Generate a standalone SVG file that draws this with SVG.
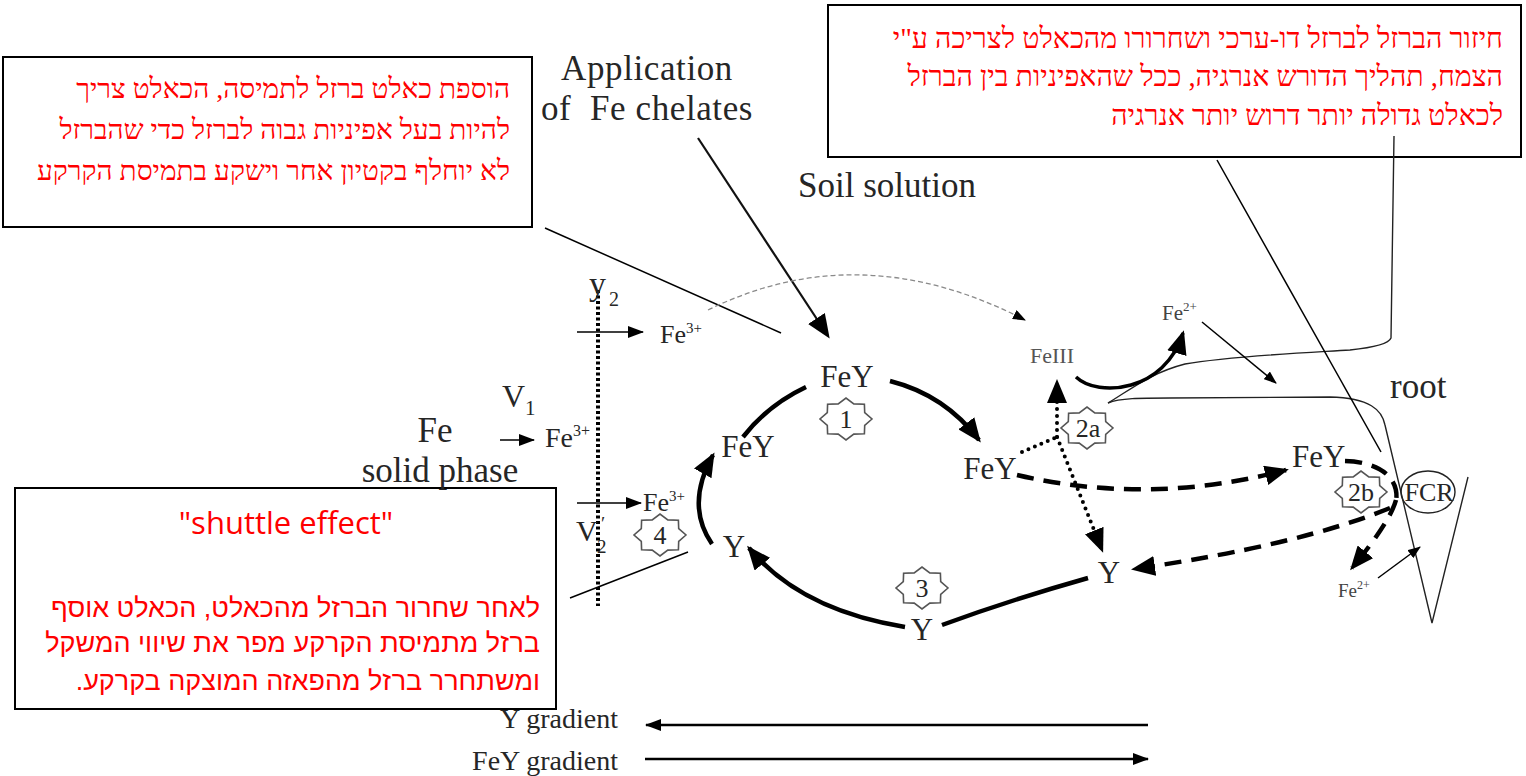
<svg xmlns="http://www.w3.org/2000/svg" width="1526" height="776" viewBox="0 0 1526 776">
<defs>
<style>
.lbl{font-family:"Liberation Serif","Times New Roman",serif;fill:#262626}
.heb{font-family:"Liberation Serif","DejaVu Serif",serif;fill:#ff0000;font-size:28px}
.hebr{font-family:"Liberation Serif","DejaVu Serif",serif;fill:#ff0000;font-size:28.5px}
.hebs{font-family:"Liberation Sans","DejaVu Sans",sans-serif;fill:#ff0000;font-size:27px}
.box{fill:#fff;stroke:#000;stroke-width:2}
.thin{fill:none;stroke:#000;stroke-width:1.5}
.med{fill:none;stroke:#111;stroke-width:2.2}
.heavy{fill:none;stroke:#000;stroke-width:4.5}
.dash{fill:none;stroke:#000;stroke-width:4.5;stroke-dasharray:17 10}
.dot{fill:none;stroke:#000;stroke-width:4;stroke-linecap:round;stroke-dasharray:0 7}
.vdot{fill:none;stroke:#000;stroke-width:4;stroke-dasharray:3 2.5}
.star{fill:#fff;stroke:#555;stroke-width:1.6}
.outline{fill:none;stroke:#222;stroke-width:1.4}
.gray{fill:none;stroke:#8a8a8a;stroke-width:1.3;stroke-dasharray:5 3}
</style>
<marker id="ab" markerUnits="userSpaceOnUse" markerWidth="24" markerHeight="20" refX="21" refY="10" orient="auto"><path d="M0,0 L24,10 L0,20 Z" fill="#000"/></marker>
<marker id="am" markerUnits="userSpaceOnUse" markerWidth="16" markerHeight="12" refX="15" refY="6" orient="auto"><path d="M0,0 L16,6 L0,12 Z" fill="#000"/></marker>
<marker id="as" markerUnits="userSpaceOnUse" markerWidth="13" markerHeight="10" refX="12" refY="5" orient="auto"><path d="M0,0 L13,5 L0,10 Z" fill="#000"/></marker>
<path id="starShape" d="M26,0 L18.7,6.3 L18.4,14.8 L7.8,15.1 L0,21 L-7.8,15.1 L-18.4,14.8 L-18.7,6.3 L-26,0 L-18.7,-6.3 L-18.4,-14.8 L-7.8,-15.1 L0,-21 L7.8,-15.1 L18.4,-14.8 L18.7,-6.3 Z"/>
</defs>
<rect width="1526" height="776" fill="#fff"/>

<g id="box-top-left">
<rect class="box" x="3" y="57" width="529" height="170"/>
<text class="heb" x="510" y="98" direction="rtl" text-anchor="start">הוספת כאלט ברזל לתמיסה, הכאלט צריך</text>
<text class="heb" x="510" y="139" direction="rtl" text-anchor="start">להיות בעל אפיניות גבוה לברזל כדי שהברזל</text>
<text class="heb" x="510" y="180" direction="rtl" text-anchor="start">לא יוחלף בקטיון אחר וישקע בתמיסת הקרקע</text>
</g>

<g id="box-top-right">
<rect class="box" x="828" y="5" width="693" height="152"/>
<text class="hebr" x="1503" y="48" direction="rtl" text-anchor="start">חיזור הברזל לברזל דו-ערכי ושחרורו מהכאלט לצריכה ע"י</text>
<text class="hebr" x="1503" y="86" direction="rtl" text-anchor="start">הצמח, תהליך הדורש אנרגיה, ככל שהאפיניות בין הברזל</text>
<text class="hebr" x="1503" y="125" direction="rtl" text-anchor="start">לכאלט גדולה יותר דרוש יותר אנרגיה</text>
</g>

<g id="box-bottom-left">
<rect class="box" x="15" y="488" width="541" height="221"/>
<text x="286" y="534" text-anchor="middle" style="font-family:'Open Sans','Liberation Sans',sans-serif;font-size:31px;fill:#ff0000">"shuttle effect"</text>
<text class="hebs" x="540" y="617" direction="rtl" text-anchor="start">לאחר שחרור הברזל מהכאלט, הכאלט אוסף</text>
<text class="hebs" x="540" y="652" direction="rtl" text-anchor="start">ברזל מתמיסת הקרקע מפר את שיווי המשקל</text>
<text class="hebs" x="540" y="690" direction="rtl" text-anchor="start">ומשתחרר ברזל מהפאזה המוצקה בקרקע.</text>
</g>

<g id="labels-top">
<text class="lbl" x="647" y="80" text-anchor="middle" font-size="35" letter-spacing="0.6">Application</text>
<text class="lbl" x="647" y="120" text-anchor="middle" font-size="35" letter-spacing="0.6" style="white-space:pre">of  Fe chelates</text>
<text class="lbl" x="798" y="197" font-size="35">Soil solution</text>
</g>

<g id="solid-phase">
<text class="lbl" x="435" y="442" text-anchor="middle" font-size="35">Fe</text>
<text class="lbl" x="440" y="482" text-anchor="middle" font-size="35">solid phase</text>
<text class="lbl" x="502" y="407" font-size="32">V<tspan font-size="21" dy="8">1</tspan></text>
<text class="lbl" x="545" y="447" font-size="28">Fe<tspan font-size="16" dy="-11">3+</tspan></text>
</g>

<g id="boundary">
<path class="vdot" d="M598,290 L598,606"/>
<text class="lbl" x="589" y="295" font-size="34">y</text>
<text class="lbl" x="609" y="306" font-size="20">2</text>
<text class="lbl" x="660" y="343" font-size="26">Fe<tspan font-size="15" dy="-10">3+</tspan></text>
<text class="lbl" x="643" y="511" font-size="26">Fe<tspan font-size="15" dy="-10">3+</tspan></text>
<text class="lbl" x="576" y="541" font-size="30">V</text>
<text class="lbl" x="597" y="553" font-size="19">2</text>
<text class="lbl" x="601" y="530" font-size="19">′</text>
</g>

<g id="node-star4"><use href="#starShape" class="star" transform="translate(660,535)"/><text class="lbl" x="660" y="544" text-anchor="middle" font-size="26">4</text></g>
<g id="node-fey-left"><text class="lbl" x="748" y="457" text-anchor="middle" font-size="31">FeY</text></g>
<g id="node-y-left"><text class="lbl" x="734" y="557" text-anchor="middle" font-size="31">Y</text></g>
<g id="node-fey-top"><text class="lbl" x="847" y="387" text-anchor="middle" font-size="31">FeY</text></g>
<g id="node-star1"><use href="#starShape" class="star" transform="translate(846,419)"/><text class="lbl" x="846" y="428" text-anchor="middle" font-size="26">1</text></g>
<g id="node-fey-mid"><text class="lbl" x="990" y="479" text-anchor="middle" font-size="31">FeY</text></g>
<g id="node-feiii"><text x="1030" y="363" font-size="22" style="font-family:'Liberation Serif',serif;fill:#555">FeIII</text></g>
<g id="node-star2a"><use href="#starShape" class="star" transform="translate(1087,428)"/><text class="lbl" x="1088" y="437" text-anchor="middle" font-size="26">2a</text></g>
<g id="node-y-right"><text class="lbl" x="1109" y="583" text-anchor="middle" font-size="31">Y</text></g>
<g id="node-y-bottom"><text class="lbl" x="922" y="640" text-anchor="middle" font-size="31">Y</text></g>
<g id="node-star3"><use href="#starShape" class="star" transform="translate(922,588)"/><text class="lbl" x="922" y="597" text-anchor="middle" font-size="26">3</text></g>
<g id="node-fe2-top"><text x="1162" y="320" font-size="21" style="font-family:'Liberation Serif',serif;fill:#444">Fe<tspan font-size="13" dy="-9">2+</tspan></text></g>
<g id="node-root">
<path class="outline" d="M1108,403 C1130,390 1150,373 1185,364 C1230,356 1300,353 1350,350 Q1388,346 1391,338 L1394,136"/>
<path class="outline" d="M1108,403 C1120,398 1140,398 1170,398 L1330,397 C1370,398 1382,410 1385,425 L1432,623 L1468,477"/>
<text class="lbl" x="1390" y="398" font-size="35">root</text>
</g>
<g id="node-fey-root"><text class="lbl" x="1292" y="467" font-size="31">FeY</text></g>
<g id="node-star2b"><use href="#starShape" class="star" transform="translate(1361,492)"/><text class="lbl" x="1361" y="501" text-anchor="middle" font-size="26">2b</text></g>
<g id="node-fcr"><ellipse cx="1428" cy="492" rx="27" ry="21" fill="none" stroke="#222" stroke-width="1.4"/><text class="lbl" x="1429" y="501" text-anchor="middle" font-size="26">FCR</text></g>
<g id="node-fe2-bottom"><text x="1338" y="597" font-size="19" style="font-family:'Liberation Serif',serif;fill:#444">Fe<tspan font-size="12" dy="-8">2+</tspan></text></g>

<g id="gradients">
<text class="lbl" x="618" y="728" text-anchor="end" font-size="28">Y gradient</text>
<text class="lbl" x="618" y="770" text-anchor="end" font-size="28">FeY gradient</text>
</g>

<g id="connectors">
<path class="thin" d="M545,228 L781,333"/>
<path class="thin" d="M1217,160 L1381,452"/>
<path class="thin" d="M570,598 L688,552"/>
<path class="med" d="M698,138 L828,336" marker-end="url(#ab)"/>
<path class="gray" d="M708,310 Q860,235 1025,320" marker-end="url(#as)"/>
<path class="thin" d="M577,332 L643,332" marker-end="url(#am)"/>
<path class="thin" d="M500,440 L534,440" marker-end="url(#am)"/>
<path class="thin" d="M577,503 L641,503" marker-end="url(#am)"/>
<path class="heavy" d="M712,544 Q685,505 713,455" marker-end="url(#ab)"/>
<path class="heavy" d="M743,437 Q768,405 806,387"/>
<path class="heavy" d="M890,381 Q945,395 979,440" marker-end="url(#ab)"/>
<path class="dot" d="M1022,452 L1057,437"/>
<path class="dot" d="M1057,437 L1057,382" marker-end="url(#ab)"/>
<path class="dot" d="M1057,437 L1102,550" marker-end="url(#ab)"/>
<path class="dash" d="M1017,475 Q1150,506 1286,470" marker-end="url(#ab)"/>
<path class="dash" d="M1345,461 C1380,462 1400,478 1396,502"/>
<path class="dash" d="M1396,500 Q1390,522 1352,568" marker-end="url(#ab)"/>
<path class="dash" d="M1390,508 Q1300,545 1134,569" marker-end="url(#ab)"/>
<path class="heavy" d="M1088,578 Q1010,600 942,625"/>
<path class="heavy" d="M905,627 Q800,610 749,548" marker-end="url(#ab)"/>
<path class="heavy" style="stroke-width:3.5" d="M1076,377 C1098,398 1165,392 1183,333" marker-end="url(#ab)"/>
<path class="thin" d="M1202,322 L1276,383" marker-end="url(#as)"/>
<path class="thin" d="M1378,578 L1420,547" marker-end="url(#as)"/>
<path class="heavy" style="stroke-width:2.5" d="M1148,725 L646,725" marker-end="url(#am)"/>
<path class="heavy" style="stroke-width:2.5" d="M645,759 L1148,759" marker-end="url(#am)"/>
</g>
</svg>
